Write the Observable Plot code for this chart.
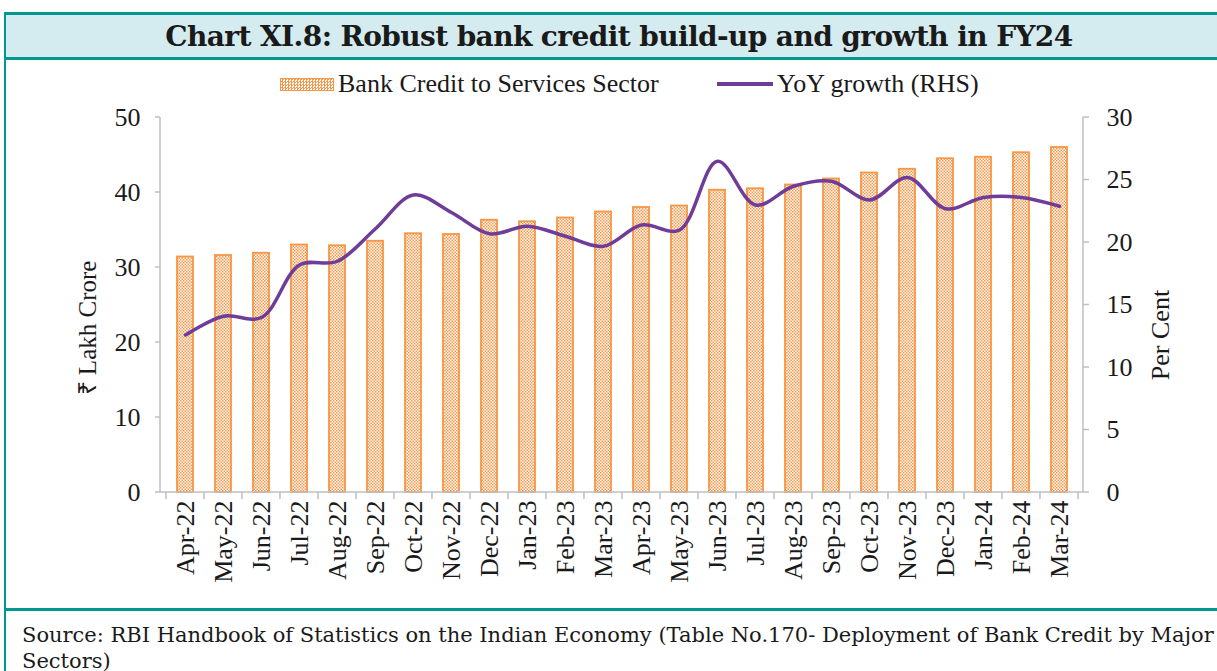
<!DOCTYPE html>
<html>
<head>
<meta charset="utf-8">
<script src="https://cdn.jsdelivr.net/npm/d3@7"></script>
<script src="https://cdn.jsdelivr.net/npm/@observablehq/plot@0.6"></script>
<style>
  html, body { margin: 0; padding: 0; background: #fff; }
  body { width: 1217px; height: 671px; overflow: hidden; position: relative; font-family: "Liberation Serif", serif; color: #1a1a1a; }
  #frame { position: absolute; left: 4px; top: 12px; width: 1240px; height: 700px; border-left: 2px solid #00978e; border-top: 3px solid #00978e; box-sizing: border-box; }
  #title { position: absolute; left: 6px; top: 15px; width: 1226px; height: 42px; background: #d4ecef; border-bottom: 3px solid #00978e; display: flex; align-items: center; justify-content: center; font: bold 28px "DejaVu Serif", serif; color: #1a1a1a; letter-spacing: -0.6px; }
  #legend { position: absolute; top: 68px; left: 0; width: 1217px; height: 32px; font-size: 26px; }
  .lg { position: absolute; top: 0; display: flex; align-items: center; height: 32px; white-space: nowrap; }
  .sw-bar { width: 52px; height: 11px; border: 1px solid #f79646; background: repeating-conic-gradient(#f79646 0 25%, #fff 0 50%) 0 0 / 3px 3px; margin-right: 4px; }
  .sw-line { width: 56px; height: 4px; background: #6f3c98; margin-right: 4px; }
  #chart { position: absolute; left: 0; top: 100px; }
  #footline { position: absolute; left: 6px; top: 608px; width: 1226px; height: 3px; background: #00978e; }
  #source { position: absolute; left: 22px; top: 622px; width: 1195px; font: 21px "DejaVu Serif", serif; line-height: 26px; white-space: nowrap; }
</style>
</head>
<body>
<div id="frame"></div>
<div id="title">Chart XI.8: Robust bank credit build-up and growth in FY24</div>
<div id="legend">
  <div class="lg" style="left:280px"><div class="sw-bar"></div><span>Bank Credit to Services Sector</span></div>
  <div class="lg" style="left:717px"><div class="sw-line"></div><span>YoY growth (RHS)</span></div>
</div>
<div id="chart"></div>
<div id="footline"></div>
<div id="source">Source: RBI Handbook of Statistics on the Indian Economy (Table No.170- Deployment of Bank Credit by Major<br>Sectors)</div>
<script>
const months = ["Apr-22","May-22","Jun-22","Jul-22","Aug-22","Sep-22","Oct-22","Nov-22","Dec-22","Jan-23","Feb-23","Mar-23",
                "Apr-23","May-23","Jun-23","Jul-23","Aug-23","Sep-23","Oct-23","Nov-23","Dec-23","Jan-24","Feb-24","Mar-24"];
const credit = [31.4, 31.6, 31.9, 33.0, 32.9, 33.5, 34.5, 34.4, 36.3, 36.1, 36.6, 37.4,
                38.0, 38.2, 40.3, 40.5, 41.0, 41.8, 42.6, 43.1, 44.5, 44.7, 45.3, 46.0];
const yoy = [12.6, 14.1, 14.0, 18.2, 18.5, 21.1, 23.8, 22.4, 20.7, 21.3, 20.5, 19.7,
             21.4, 21.0, 26.5, 23.0, 24.5, 24.9, 23.4, 25.2, 22.7, 23.6, 23.6, 22.9];
const leftTicks = [0, 10, 20, 30, 40, 50];
const rightTicks = [0, 5, 10, 15, 20, 25, 30];
const leftTitle = "₹ Lakh Crore";
const rightTitle = "Per Cent";

const LMAX = 50, RMAX = 30;
const data = months.map((m, i) => ({m, credit: credit[i], yoy: yoy[i]}));
const NS = "http://www.w3.org/2000/svg";
const ORANGE = "#f79646", PURPLE = "#6f3c98", GRID = "#bfbfbf";
const PIN = 0.58;

function defs() {
  const d = document.createElementNS(NS, "defs");
  d.innerHTML = `<pattern id="chk" width="3" height="3" patternUnits="userSpaceOnUse">
      <rect width="3" height="3" fill="#ffffff"/>
      <rect x="0" y="0" width="1.5" height="1.5" fill="${ORANGE}"/>
      <rect x="1.5" y="1.5" width="1.5" height="1.5" fill="${ORANGE}"/>
    </pattern>`;
  return d;
}

function decor(index, scales, values, dims) {
  const {x, y} = scales;
  const g = document.createElementNS(NS, "g");
  g.setAttribute("stroke", GRID);
  g.setAttribute("stroke-width", "1.5");
  const line = (x1, y1, x2, y2) => {
    const l = document.createElementNS(NS, "line");
    l.setAttribute("x1", x1); l.setAttribute("y1", y1);
    l.setAttribute("x2", x2); l.setAttribute("y2", y2);
    g.appendChild(l);
  };
  const y0 = y(0), yT = y(LMAX);
  const xl = dims.marginLeft, xr = dims.width - dims.marginRight;
  line(xl, y0, xl, yT);
  line(xr, y0, xr, yT);
  line(xl, y0, xr, y0);
  for (const t of leftTicks) line(xl - 5, y(t), xl, y(t));
  for (const t of rightTicks) line(xr, y(t * LMAX / RMAX), xr + 6, y(t * LMAX / RMAX));
  const step = x.step ? x.step() : (xr - xl) / months.length;
  const gap = step * PIN / 2;
  months.forEach(m => line(x(m) - gap, y0, x(m) - gap, y0 + 7));
  const last = months[months.length - 1];
  line(x(last) + x.bandwidth() + gap, y0, x(last) + x.bandwidth() + gap, y0 + 7);
  return g;
}

const chart = Plot.plot({
  width: 1217,
  height: 505,
  marginLeft: 160,
  marginRight: 134,
  marginTop: 17,
  marginBottom: 113,
  style: {fontFamily: "Liberation Serif, serif", fontSize: "26px", color: "#1a1a1a", background: "transparent", overflow: "visible"},
  x: {domain: months, paddingInner: PIN, paddingOuter: PIN / 2, label: null},
  y: {domain: [0, LMAX], label: null},
  marks: [
    defs,
    Plot.barY(data, {x: "m", y: "credit", fill: "url(#chk)", stroke: ORANGE, strokeWidth: 1.8}),
    Plot.line(data, {x: "m", y: d => d.yoy * LMAX / RMAX, stroke: PURPLE, strokeWidth: 3.5, curve: "catmull-rom"}),
    decor,
    Plot.axisY(leftTicks, {anchor: "left", tickSize: 0, tickPadding: 20, label: null, fontSize: 26}),
    Plot.axisY(rightTicks.map(t => t * LMAX / RMAX), {anchor: "right", tickSize: 0, tickPadding: 23, label: null, fontSize: 26,
      tickFormat: d => String(Math.round(d * RMAX / LMAX))}),
    Plot.axisX({tickSize: 0, tickRotate: -90, tickPadding: 8, label: null, fontSize: 26}),
    Plot.text([leftTitle], {frameAnchor: "left", textAnchor: "middle", dx: -73, dy: 23, rotate: -90, fontSize: 25, text: d => d}),
    Plot.text([rightTitle], {frameAnchor: "right", textAnchor: "middle", dx: 77, dy: 30, rotate: -90, fontSize: 26, text: d => d})
  ]
});
document.getElementById("chart").appendChild(chart);
</script>
</body>
</html>
